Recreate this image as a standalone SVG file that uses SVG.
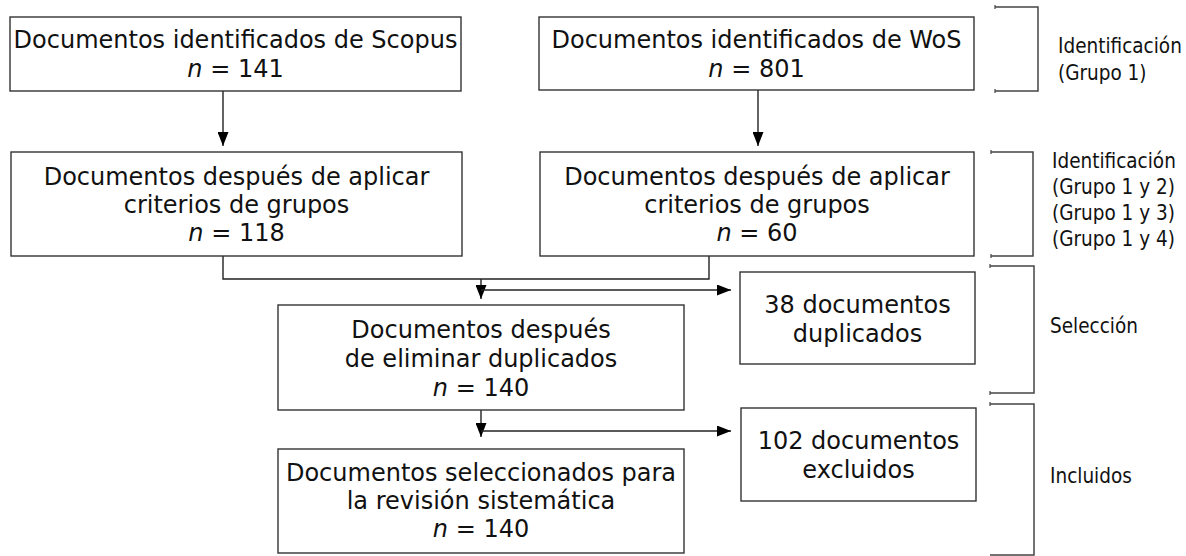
<svg xmlns="http://www.w3.org/2000/svg" width="1186" height="556" viewBox="0 0 1186 556">
<style>
.box{fill:#fff;stroke:#333;stroke-width:1.4}
.t{font-family:"DejaVu Sans","Verdana",sans-serif;font-size:24px;fill:#111;text-anchor:middle}
.lab{font-family:"DejaVu Sans Condensed","DejaVu Sans",sans-serif;font-stretch:condensed;font-size:20.5px;fill:#111}
.c{fill:none;stroke:#222;stroke-width:1.4}
.br{fill:none;stroke:#444;stroke-width:1.5}
.tick{stroke:#444;stroke-width:1.2}
</style>
<defs>
<marker id="ah" markerUnits="userSpaceOnUse" markerWidth="14" markerHeight="11" refX="14" refY="5.5" orient="auto">
<path d="M0,0 L14,5.5 L0,11 z" fill="#000"/>
</marker>
</defs>
<g id="connectors">
<line class="c" x1="223" y1="91" x2="223" y2="146" marker-end="url(#ah)"/>
<line class="c" x1="758" y1="90" x2="758" y2="146" marker-end="url(#ah)"/>
<polyline class="c" points="223,256 223,279 709,279 709,256"/>
<line class="c" x1="481" y1="279" x2="481" y2="299" marker-end="url(#ah)"/>
<line class="c" x1="481" y1="290" x2="731" y2="290" marker-end="url(#ah)"/>
<line class="c" x1="481" y1="410" x2="481" y2="437" marker-end="url(#ah)"/>
<line class="c" x1="481" y1="431" x2="731" y2="431" marker-end="url(#ah)"/>
</g>
<g id="scopus">
<rect class="box" x="10" y="17" width="451" height="74"/>
<text class="t" x="235.5" y="48">Documentos identificados de Scopus</text>
<text class="t" x="235.5" y="77"><tspan font-style="italic">n</tspan> = 141</text>
</g>
<g id="wos">
<rect class="box" x="539" y="17" width="435" height="73"/>
<text class="t" x="756.5" y="48">Documentos identificados de WoS</text>
<text class="t" x="756.5" y="77"><tspan font-style="italic">n</tspan> = 801</text>
</g>
<g id="scopus-criterios">
<rect class="box" x="11" y="152" width="451" height="104"/>
<text class="t" x="236.5" y="185">Documentos después de aplicar</text>
<text class="t" x="236.5" y="213">criterios de grupos</text>
<text class="t" x="236.5" y="241"><tspan font-style="italic">n</tspan> = 118</text>
</g>
<g id="wos-criterios">
<rect class="box" x="540" y="152" width="434" height="104"/>
<text class="t" x="757" y="185">Documentos después de aplicar</text>
<text class="t" x="757" y="213">criterios de grupos</text>
<text class="t" x="757" y="241"><tspan font-style="italic">n</tspan> = 60</text>
</g>
<g id="sin-duplicados">
<rect class="box" x="278" y="305" width="406" height="105"/>
<text class="t" x="481" y="338">Documentos después</text>
<text class="t" x="481" y="367">de eliminar duplicados</text>
<text class="t" x="481" y="396"><tspan font-style="italic">n</tspan> = 140</text>
</g>
<g id="duplicados">
<rect class="box" x="740" y="272" width="235" height="92"/>
<text class="t" x="857.5" y="313">38 documentos</text>
<text class="t" x="857.5" y="342">duplicados</text>
</g>
<g id="excluidos">
<rect class="box" x="741" y="408" width="235" height="93"/>
<text class="t" x="858.5" y="449">102 documentos</text>
<text class="t" x="858.5" y="478">excluidos</text>
</g>
<g id="seleccionados">
<rect class="box" x="278" y="449" width="406" height="104"/>
<text class="t" x="481" y="481">Documentos seleccionados para</text>
<text class="t" x="481" y="509">la revisión sistemática</text>
<text class="t" x="481" y="537"><tspan font-style="italic">n</tspan> = 140</text>
</g>
<g id="fase-identificacion-1">
<polyline class="br" points="995,7 1038,7 1038,91 995,91"/>
<line class="tick" x1="995" y1="5" x2="995" y2="9"/>
<line class="tick" x1="995" y1="89" x2="995" y2="93"/>
<text class="lab" x="1058" y="53">Identificación</text>
<text class="lab" x="1058" y="80">(Grupo 1)</text>
</g>
<g id="fase-identificacion-2">
<polyline class="br" points="991,152 1033,152 1033,256 991,256"/>
<line class="tick" x1="991" y1="150" x2="991" y2="154"/>
<line class="tick" x1="991" y1="254" x2="991" y2="258"/>
<text class="lab" x="1052" y="168">Identificación</text>
<text class="lab" x="1052" y="194">(Grupo 1 y 2)</text>
<text class="lab" x="1052" y="220">(Grupo 1 y 3)</text>
<text class="lab" x="1052" y="246">(Grupo 1 y 4)</text>
</g>
<g id="fase-seleccion">
<polyline class="br" points="990,266 1034,266 1034,393 990,393"/>
<line class="tick" x1="990" y1="264" x2="990" y2="268"/>
<line class="tick" x1="990" y1="391" x2="990" y2="395"/>
<text class="lab" x="1050" y="333">Selección</text>
</g>
<g id="fase-incluidos">
<polyline class="br" points="990,404 1034,404 1034,555 990,555"/>
<line class="tick" x1="990" y1="402" x2="990" y2="406"/>
<text class="lab" x="1050" y="483">Incluidos</text>
</g>
</svg>
